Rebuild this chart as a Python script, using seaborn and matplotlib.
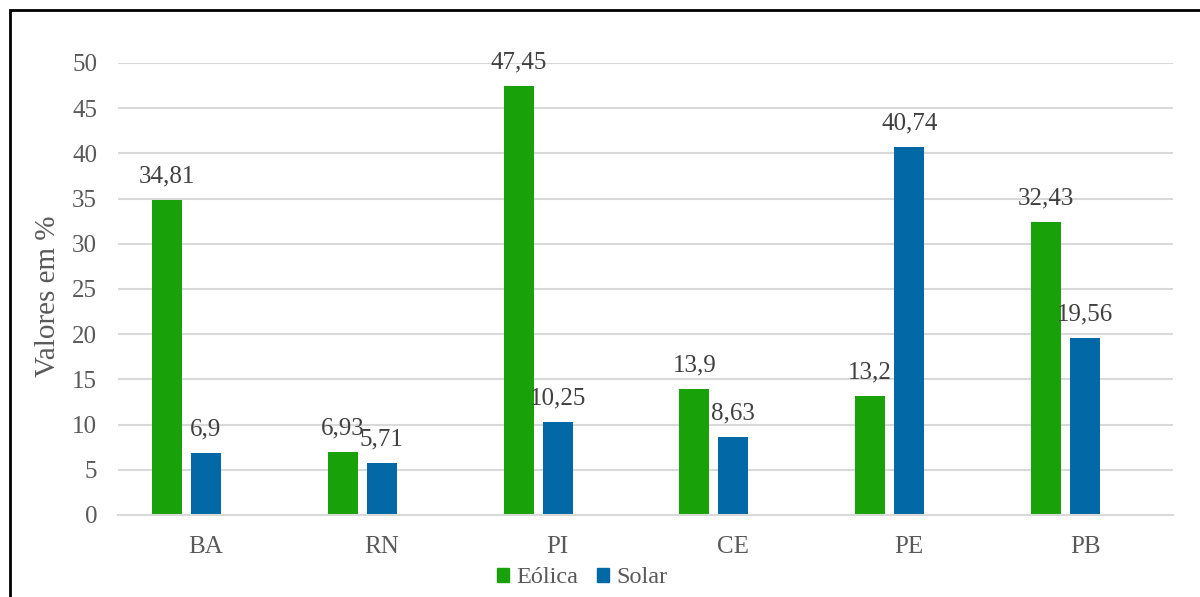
import numpy as np
import pandas as pd
import matplotlib
matplotlib.use("Agg")
import matplotlib.pyplot as plt
from matplotlib.patches import Rectangle, Patch
import seaborn as sns

# ── Data ──────────────────────────────────────────────────────────────────────

estados = ["BA", "RN", "PI", "CE", "PE", "PB"]
eolica  = [34.81, 6.93, 47.45, 13.9, 13.2, 32.43]
solar   = [6.9, 5.71, 10.25, 8.63, 40.74, 19.56]
series  = ["Eólica", "Solar"]

GREEN = "#19A10A"
BLUE  = "#0368A6"
TEXT  = "#595959"
GRID  = "#D9D9D9"

# Excel layout keeps an empty third slot in each group
df = pd.DataFrame({
    "estado": estados * 3,
    "serie":  ["Eólica"] * 6 + ["Solar"] * 6 + ["_vazio"] * 6,
    "valor":  eolica + solar + [0.0] * 6,
})

# ── Figure ────────────────────────────────────────────────────────────────────

sns.set_theme(style="white")
plt.rcParams["font.family"] = ["Liberation Serif", "DejaVu Serif"]

fig = plt.figure(figsize=(12, 5.97), dpi=100)
ax = fig.add_axes([0.0983, 0.1374, 0.8792, 0.7571])

sns.barplot(data=df, x="estado", y="valor", hue="serie",
            hue_order=["Eólica", "Solar", "_vazio"],
            palette=[GREEN, BLUE, "white"], saturation=1,
            width=0.665, gap=0.23, linewidth=0,
            legend=False, ax=ax)

# data labels
for cont, vals in zip(ax.containers[:2], [eolica, solar]):
    labels = [f"{v:g}".replace(".", ",") for v in vals]
    ax.bar_label(cont, labels=labels, padding=9,
                 fontsize=18, color="#404040")

ax.set_ylim(0, 50)
ax.set_yticks(np.arange(0, 51, 5))
ax.yaxis.grid(True, color=GRID, linewidth=1.5)
ax.set_axisbelow(True)
for side in ["left", "right", "top"]:
    ax.spines[side].set_visible(False)
ax.spines["bottom"].set_color(GRID)
ax.spines["bottom"].set_linewidth(1.5)
ax.tick_params(axis="both", length=0, labelsize=18, labelcolor=TEXT)
ax.tick_params(axis="x", pad=15)
ax.tick_params(axis="y", pad=15)

ax.set_xlabel("")
ax.set_ylabel("Valores em %", fontsize=21, color=TEXT)
ax.yaxis.set_label_coords(-0.054, 0.485)

handles = [Patch(color=GREEN, label="Eólica"), Patch(color=BLUE, label="Solar")]
fig.legend(handles=handles, loc="center", bbox_to_anchor=(0.485, 0.032),
           ncol=2, frameon=False, fontsize=17.5, labelcolor=TEXT,
           handlelength=0.5, handleheight=0.5, handletextpad=0.3,
           columnspacing=0.75)

# outer chart border (runs off the right and bottom edges)
fig.patches.append(Rectangle((10 / 1200, -0.2), 1.2, 1.2 - 11 / 597 + 0.001,
                             transform=fig.transFigure, fill=False,
                             edgecolor="black", linewidth=2))

fig.savefig("out.png", dpi=100)
